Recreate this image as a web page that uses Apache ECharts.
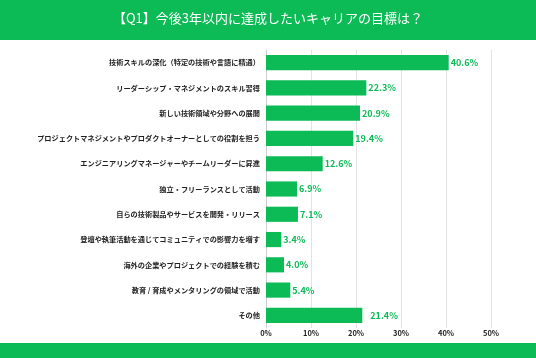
<!DOCTYPE html>
<html><head><meta charset="utf-8">
<script src="https://cdn.jsdelivr.net/npm/echarts@6/dist/echarts.min.js"></script>
<style>html,body{margin:0;padding:0;background:#fff}#c{width:536px;height:358px}</style>
</head><body><div id="c"></div>
<script>
const titleText = '【Q1】今後3年以内に達成したいキャリアの目標は？';
const categories = [
  '技術スキルの深化（特定の技術や言語に精通）',
  'リーダーシップ・マネジメントのスキル習得',
  '新しい技術領域や分野への展開',
  'プロジェクトマネジメントやプロダクトオーナーとしての役割を担う',
  'エンジニアリングマネージャーやチームリーダーに昇進',
  '独立・フリーランスとして活動',
  '自らの技術製品やサービスを開発・リリース',
  '登壇や執筆活動を通じてコミュニティでの影響力を増す',
  '海外の企業やプロジェクトでの経験を積む',
  '教育 / 育成やメンタリングの領域で活動',
  'その他'
];
const values = [40.6, 22.3, 20.9, 19.4, 12.6, 6.9, 7.1, 3.4, 4.0, 5.4, 21.4];
const tickValues = [0, 10, 20, 30, 40, 50];

const green = '#0cba56';
const chart = echarts.init(document.getElementById('c'), null, {renderer: 'canvas'});
const font = '"Noto Sans CJK JP", "Noto Sans", sans-serif';
chart.setOption({
  animation: false,
  graphic: [
    {type: 'rect', shape: {x: 0, y: 0, width: 536, height: 40}, style: {fill: green}, z: -1},
    {type: 'rect', shape: {x: 0, y: 343, width: 536, height: 15}, style: {fill: green}, z: -1},
    {type: 'text', left: 'center', top: 12, style: {text: titleText, fill: '#fff', font: '13px ' + font}}
  ],
  grid: {left: 266, right: 45, top: 50, bottom: 30},
  xAxis: {
    type: 'value', min: tickValues[0], max: tickValues[tickValues.length - 1], interval: 10,
    axisLabel: {formatter: '{value}%', color: '#222', fontSize: 7.5, fontWeight: 'bold', fontFamily: font, margin: 1},
    splitLine: {lineStyle: {color: '#e3e3e3', width: 1}},
    axisLine: {show: false}, axisTick: {show: false}
  },
  yAxis: {
    type: 'category', data: categories, inverse: true,
    axisLabel: {color: '#222', fontSize: 7.2, fontWeight: 'bold', fontFamily: font, margin: 6},
    axisLine: {show: true, lineStyle: {color: '#cfcfcf'}},
    axisTick: {show: false}
  },
  series: [{
    type: 'bar',
    data: values.map((v, i) => i === values.length - 1 ? {value: v, label: {distance: 8}} : v),
    barCategoryGap: '40%',
    itemStyle: {color: green},
    label: {show: true, position: 'right', distance: 2, formatter: p => p.value.toFixed(1) + '%',
      color: green, fontSize: 9, fontWeight: 'bold', fontFamily: font}
  }]
});
</script></body></html>
